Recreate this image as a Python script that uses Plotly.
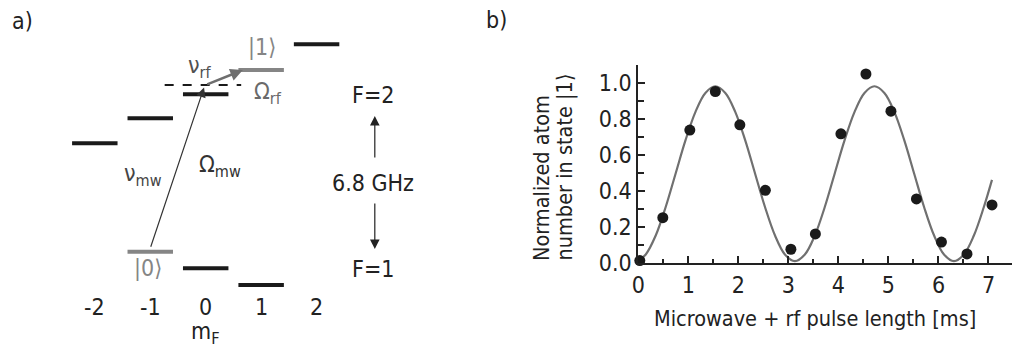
import plotly.graph_objects as go

# ---------------- panel b data ----------------
pulse_ms = [0.03, 0.49, 1.03, 1.54, 2.03, 2.54, 3.05, 3.54, 4.05, 4.55, 5.05, 5.56, 6.06, 6.57, 7.07]
atoms_norm = [0.015, 0.253, 0.739, 0.953, 0.768, 0.405, 0.078, 0.163, 0.718, 1.05, 0.844, 0.357, 0.118, 0.052, 0.324]

fit_t = [0.0, 0.149, 0.348, 0.546, 0.745, 0.944, 1.143, 1.341, 1.54, 1.739, 1.938, 2.136, 2.335,
         2.534, 2.733, 2.931, 3.13, 3.329, 3.528, 3.726, 3.925, 4.124, 4.323, 4.521, 4.72, 4.919,
         5.118, 5.316, 5.515, 5.714, 5.913, 6.111, 6.31, 6.509, 6.708, 6.906, 7.07]
fit_y = [0.014, 0.049, 0.154, 0.311, 0.497, 0.683, 0.840, 0.945, 0.982, 0.945, 0.840, 0.683, 0.497,
         0.311, 0.154, 0.049, 0.012, 0.049, 0.154, 0.311, 0.497, 0.683, 0.840, 0.945, 0.982, 0.945,
         0.840, 0.683, 0.497, 0.311, 0.154, 0.049, 0.012, 0.049, 0.154, 0.311, 0.463]

x_ticks = [0, 1, 2, 3, 4, 5, 6, 7]
y_ticks = [0.0, 0.2, 0.4, 0.6, 0.8, 1.0]
y_ticklabels = ["0.0", "0.2", "0.4", "0.6", "0.8", "1.0"]

# ---------------- panel a data (energy levels, arbitrary units) ----------------
mF_F2 = [-2, -1, 0, 1, 2]
E_F2 = [20.67, 23.17, 25.57, 28.0, 30.57]
mF_F1 = [-1, 0, 1]
E_F1 = [9.83, 8.17, 6.5]
E_virtual = 26.5
mF_labels = ["-2", "-1", "0", "1", "2"]

FONT = "DejaVu Sans Condensed, DejaVu Sans, sans-serif"
TXT = "#222222"
GRAY = "#858585"
HW = 0.41  # half width of level bars
FS = 23

def segments(ms, Es):
    xs, ys = [], []
    for m, e in zip(ms, Es):
        xs += [m - HW, m + HW, None]
        ys += [e, e, None]
    return xs, ys

black_m = [m for m in mF_F2 if m != 1] + [m for m in mF_F1 if m != -1]
black_E = [e for m, e in zip(mF_F2, E_F2) if m != 1] + [e for m, e in zip(mF_F1, E_F1) if m != -1]
gray_m = [1, -1]
gray_E = [E_F2[mF_F2.index(1)], E_F1[mF_F1.index(-1)]]

fig = go.Figure()

bx, by = segments(black_m, black_E)
gx, gy = segments(gray_m, gray_E)
fig.add_trace(go.Scatter(x=bx, y=by, mode="lines", line=dict(color="#1a1a1a", width=4),
                         xaxis="x2", yaxis="y2", hoverinfo="skip"))
fig.add_trace(go.Scatter(x=gx, y=gy, mode="lines", line=dict(color=GRAY, width=4),
                         xaxis="x2", yaxis="y2", hoverinfo="skip"))
fig.add_trace(go.Scatter(x=[-0.74, 0.64], y=[E_virtual, E_virtual], mode="lines",
                         line=dict(color="#1a1a1a", width=2, dash="dash"),
                         xaxis="x2", yaxis="y2", hoverinfo="skip"))

# panel b traces
fig.add_trace(go.Scatter(x=fit_t, y=fit_y, mode="lines", line=dict(color="#707070", width=2.2, shape="spline"),
                         cliponaxis=False))
fig.add_trace(go.Scatter(x=pulse_ms, y=atoms_norm, mode="markers",
                         marker=dict(color="#1a1a1a", size=11), cliponaxis=False))

ann = []
def txt(x, y, t, color=TXT, size=FS, xref="x2", yref="y2", xanchor="center", yanchor="middle", **kw):
    ann.append(dict(x=x, y=y, xref=xref, yref=yref, text=t, showarrow=False,
                    xanchor=xanchor, yanchor=yanchor,
                    font=dict(family=FONT, size=size, color=color), **kw))

# mF tick labels
for m, lab in zip(mF_F2, mF_labels):
    txt(m, 4.3, lab)
txt(0, 0.05, "m<sub>F</sub>", yanchor="bottom")

# state / transition labels
txt(1.015, 30.3, "|1⟩", color=GRAY)
txt(-0.1, 28.3, "ν<sub>rf</sub>", color="#505050")
txt(1.12, 25.7, "Ω<sub>rf</sub>", color="#6a6a6a")
txt(0.26, 18.4, "Ω<sub>mw</sub>", color="#333333")
txt(-1.13, 17.5, "ν<sub>mw</sub>", color="#444444")
txt(-1.04, 8.2, "|0⟩", color=GRAY)

# hyperfine labels
txt(3.02, 25.5, "F=2")
txt(3.02, 16.7, "6.8 GHz")
txt(3.02, 8.1, "F=1")

# arrows
def arrow(x0, y0, x1, y1, color, width, size):
    ann.append(dict(x=x1, y=y1, ax=x0, ay=y0, xref="x2", yref="y2", axref="x2", ayref="y2",
                    text="", showarrow=True, arrowhead=2, arrowsize=size, arrowwidth=width,
                    arrowcolor=color, standoff=0, startstandoff=0))

arrow(-1, E_F1[0] + 0.35, 0 - 0.03, E_virtual - 0.25, "#333333", 1.2, 1.6)
arrow(0, E_virtual, 1 - 0.33, E_F2[3], "#6e6e6e", 2.5, 1.0)
arrow(3.05, 19.1, 3.05, 23.4, "#222222", 1.2, 1.6)
arrow(3.05, 14.8, 3.05, 10.1, "#222222", 1.2, 1.6)

# panel labels
txt(22 / 1012, 1 - 21 / 350, "a)", xref="paper", yref="paper", size=FS)
txt(496 / 1012, 1 - 20 / 350, "b)", xref="paper", yref="paper", size=FS)

# axis titles for panel b
txt(815 / 1012, 1 - 318 / 350, "Microwave + rf pulse length [ms]", xref="paper", yref="paper", size=21.5)
txt(541 / 1012, 1 - 263 / 350, "Normalized atom", xref="paper", yref="paper", size=21.5,
    textangle=-90, yanchor="bottom")
txt(564 / 1012, 1 - 263 / 350, "number in state |1⟩", xref="paper", yref="paper", size=21.5,
    textangle=-90, yanchor="bottom")

fig.update_layout(
    width=1012, height=350,
    margin=dict(l=0, r=0, t=0, b=0, autoexpand=False),
    paper_bgcolor="white", plot_bgcolor="white",
    showlegend=False,
    font=dict(family=FONT, size=FS, color=TXT),
    annotations=ann,
    xaxis=dict(domain=[638.3 / 1012, 1.0], range=[0, 7.47], showgrid=False, zeroline=False,
               showline=True, linecolor="#222222", linewidth=2,
               tickmode="array", tickvals=x_ticks, ticks="inside", ticklen=7, tickwidth=2,
               tickcolor="#222222", tickfont=dict(family=FONT, size=FS, color=TXT),
               minor=dict(dtick=0.5, tick0=0, ticks="inside", ticklen=4, tickwidth=2, tickcolor="#222222"),
               anchor="y"),
    yaxis=dict(domain=[(350 - 263.3) / 350, (350 - 65) / 350], range=[0, 1.1], showgrid=False,
               zeroline=False, showline=True, linecolor="#222222", linewidth=2,
               tickmode="array", tickvals=y_ticks, ticktext=y_ticklabels, ticks="inside", ticklen=7,
               tickwidth=2, tickcolor="#222222", tickfont=dict(family=FONT, size=FS, color=TXT),
               minor=dict(dtick=0.1, tick0=0, ticks="inside", ticklen=6, tickwidth=2, tickcolor="#222222"),
               anchor="x"),
    xaxis2=dict(domain=[0, 0.42], range=[-3.71, 3.956], visible=False, anchor="y2"),
    yaxis2=dict(domain=[0, 1], range=[0, 35], visible=False, anchor="x2"),
)

fig.write_html("out.html", config={"displayModeBar": False},
               post_script="document.body.style.margin='0';")
